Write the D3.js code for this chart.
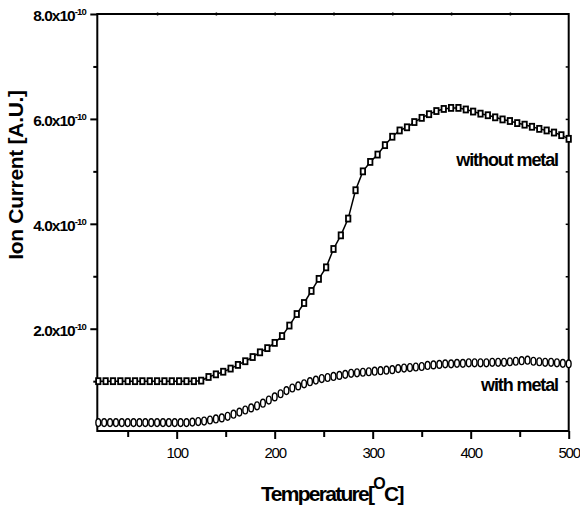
<!DOCTYPE html>
<html>
<head>
<meta charset="utf-8">
<script src="https://cdn.jsdelivr.net/npm/d3@7"></script>
<style>
  html, body { margin: 0; padding: 0; background: #fff; }
  svg { display: block; }
  text { font-family: "Liberation Sans", Arial, sans-serif; fill: #000; }
</style>
</head>
<body>
<svg id="chart" width="580" height="508"></svg>
<script>
// ---- data (ion current in units of 1e-10) ----
const tempWithout = [20, 27.5, 35, 42.5, 50, 57.5, 65, 72.5, 80, 87.5, 95, 102.5, 110, 117.5,
  125, 132.5, 140, 147.5, 155, 162.5, 170, 177.5, 185, 192.5, 200, 207.5, 215, 222.5, 230, 237.5,
  245, 252.5, 260, 267.5, 275, 282.5, 290, 297.5, 305, 312.5, 320, 327.5, 335, 342.5, 350, 357.5,
  365, 372.5, 380, 387.5, 395, 402.5, 410, 417.5, 425, 432.5, 440, 447.5, 455, 462.5, 470, 477.5,
  485, 492.5, 500];
const withoutMetal = [1.00, 1.00, 1.00, 1.00, 1.00, 1.00, 1.00, 1.00, 1.00, 1.00, 1.00, 1.00, 1.00, 1.00,
  1.01, 1.08, 1.13, 1.18, 1.24, 1.31, 1.38, 1.46, 1.55, 1.63, 1.73, 1.86, 2.06, 2.28, 2.49, 2.72,
  2.95, 3.17, 3.52, 3.78, 4.10, 4.64, 5.00, 5.18, 5.32, 5.50, 5.66, 5.78, 5.84, 5.94, 6.02, 6.09,
  6.15, 6.19, 6.21, 6.21, 6.18, 6.14, 6.10, 6.07, 6.03, 5.99, 5.96, 5.92, 5.89, 5.85, 5.81, 5.78,
  5.74, 5.69, 5.62];

const tempWith = [20, 26, 32, 38, 44, 50, 56, 62, 68, 74, 80, 86, 92, 98, 104, 110,
  116, 122, 128, 134, 140, 146, 152, 158, 164, 170, 176, 182, 188, 194, 200, 206, 212, 218, 224,
  230, 236, 242, 248, 254, 260, 266, 272, 278, 284, 290, 296, 302, 308, 314, 320, 326, 332, 338,
  344, 350, 356, 362, 368, 374, 380, 386, 392, 398, 404, 410, 416, 422, 428, 434, 440, 446, 452,
  458, 464, 470, 476, 482, 488, 494, 500];
const withMetal = [0.21, 0.21, 0.21, 0.21, 0.21, 0.21, 0.21, 0.21, 0.21, 0.21, 0.21, 0.21, 0.21, 0.21, 0.21, 0.21,
  0.22, 0.23, 0.24, 0.26, 0.28, 0.30, 0.33, 0.37, 0.41, 0.45, 0.49, 0.53, 0.58, 0.64, 0.70, 0.76, 0.82, 0.87, 0.91,
  0.95, 0.99, 1.02, 1.05, 1.07, 1.09, 1.11, 1.13, 1.15, 1.16, 1.17, 1.18, 1.19, 1.20, 1.21, 1.22, 1.24, 1.25, 1.26,
  1.27, 1.28, 1.30, 1.31, 1.32, 1.33, 1.33, 1.34, 1.34, 1.35, 1.35, 1.35, 1.35, 1.36, 1.36, 1.36, 1.37, 1.38, 1.39,
  1.40, 1.38, 1.37, 1.36, 1.36, 1.35, 1.34, 1.33];

const xTicks = [100, 200, 300, 400, 500];
const xMinorTicks = [50, 150, 250, 350, 450];
const xTopTicks = [80, 140, 200, 260, 320, 380, 440];
const yTicks = [2, 4, 6, 8];
const yTickLabels = ["2.0x10", "4.0x10", "6.0x10", "8.0x10"];
const yTickExp = "-10";
const yMinorTicks = [1, 3, 5, 7];
const yRightTicks = [1, 2, 3, 4, 5, 6, 7];
const seriesLabels = ["without metal", "with metal"];

// ---- layout ----
const svg = d3.select("#chart");
const x = d3.scaleLinear().domain([19, 500]).range([97.3, 568.7]);
const y = d3.scaleLinear().domain([0.05, 8]).range([431, 14]);
const [x0, x1] = x.range();
const [yb, yt] = y.range();

// axes frame
const axG = svg.append("g").attr("stroke", "#000").attr("fill", "none");
axG.append("rect").attr("x", x0).attr("y", yt).attr("width", x1 - x0).attr("height", yb - yt)
  .attr("stroke-width", 2);

// bottom axis
const bottom = svg.append("g").attr("transform", `translate(0,${yb})`)
  .call(d3.axisBottom(x).tickValues(xTicks).tickSize(8).tickPadding(8).tickFormat(d3.format("d")));
bottom.select(".domain").remove();
bottom.selectAll(".tick line").attr("stroke-width", 2);
bottom.selectAll(".tick text").attr("font-size", 15).attr("letter-spacing", "-1.2")
  .attr("font-family", "Liberation Sans, Arial, sans-serif");
svg.append("g").attr("transform", `translate(0,${yb})`)
  .call(d3.axisBottom(x).tickValues(xMinorTicks).tickSize(6).tickFormat(""))
  .call(g => g.select(".domain").remove())
  .selectAll(".tick line").attr("stroke-width", 2);

// top axis tiny ticks
svg.append("g").attr("transform", `translate(0,${yt + 1.5})`)
  .call(d3.axisTop(x).tickValues(xTopTicks).tickSize(3).tickFormat(""))
  .call(g => g.select(".domain").remove())
  .selectAll(".tick line").attr("stroke-width", 1.5);

// left axis
const left = svg.append("g").attr("transform", `translate(${x0},0)`)
  .call(d3.axisLeft(y).tickValues(yTicks).tickSize(7).tickFormat(""));
left.select(".domain").remove();
left.selectAll(".tick line").attr("stroke-width", 2);
svg.append("g").attr("transform", `translate(${x0},0)`)
  .call(d3.axisLeft(y).tickValues(yMinorTicks).tickSize(4).tickFormat(""))
  .call(g => g.select(".domain").remove())
  .selectAll(".tick line").attr("stroke-width", 2);

// y tick labels with superscript
const yl = svg.append("g");
yTicks.forEach((v, i) => {
  const t = yl.append("text")
    .attr("x", 86).attr("y", y(v) + 7)
    .attr("text-anchor", "end")
    .attr("font-size", 15.5).attr("font-weight", "bold").attr("letter-spacing", "-1");
  t.append("tspan").text(yTickLabels[i]);
  t.append("tspan").attr("font-size", 9.5).attr("dy", -6).attr("letter-spacing", "-0.8").text(yTickExp);
});

// right axis ticks (inward)
svg.append("g").attr("transform", `translate(${x1},0)`)
  .call(d3.axisRight(y).tickValues(yRightTicks).tickSize(-3).tickFormat(""))
  .call(g => g.select(".domain").remove())
  .selectAll(".tick line").attr("stroke-width", 1.5);

// axis titles
svg.append("text")
  .attr("transform", "translate(23,175) rotate(-90)")
  .attr("text-anchor", "middle")
  .attr("font-size", 21).attr("font-weight", "bold").attr("letter-spacing", "-0.3")
  .text("Ion Current [A.U.]");

const xt = svg.append("text")
  .attr("x", 332).attr("y", 501)
  .attr("text-anchor", "middle")
  .attr("font-size", 21).attr("font-weight", "bold").attr("letter-spacing", "-1.7");
xt.append("tspan").text("Temperature[");
xt.append("tspan").attr("font-size", 16).attr("dy", -12).text("O");
xt.append("tspan").attr("dy", 12).text("C]");

// ---- series ----
const dWithout = tempWithout.map((t, i) => [t, withoutMetal[i]]);
const dWith = tempWith.map((t, i) => [t, withMetal[i]]);

svg.append("path")
  .datum(dWithout)
  .attr("fill", "none").attr("stroke", "#000").attr("stroke-width", 1.5)
  .attr("d", d3.line().x(d => x(d[0])).y(d => y(d[1])));

svg.append("g").selectAll("rect").data(dWithout).join("rect")
  .attr("x", d => x(d[0]) - 2.2).attr("y", d => y(d[1]) - 3)
  .attr("width", 4.4).attr("height", 6)
  .attr("fill", "#fff").attr("stroke", "#000").attr("stroke-width", 1.8);

svg.append("g").selectAll("ellipse").data(dWith).join("ellipse")
  .attr("cx", d => x(d[0])).attr("cy", d => y(d[1]))
  .attr("rx", 2.4).attr("ry", 3.9)
  .attr("fill", "#fff").attr("stroke", "#000").attr("stroke-width", 1.4);

// series annotations
svg.append("text").attr("x", 558).attr("y", 166).attr("text-anchor", "end")
  .attr("font-size", 18).attr("font-weight", "bold").attr("letter-spacing", "-1.1")
  .text(seriesLabels[0]);
svg.append("text").attr("x", 558).attr("y", 391).attr("text-anchor", "end")
  .attr("font-size", 18).attr("font-weight", "bold").attr("letter-spacing", "-1.1")
  .text(seriesLabels[1]);
</script>
</body>
</html>
